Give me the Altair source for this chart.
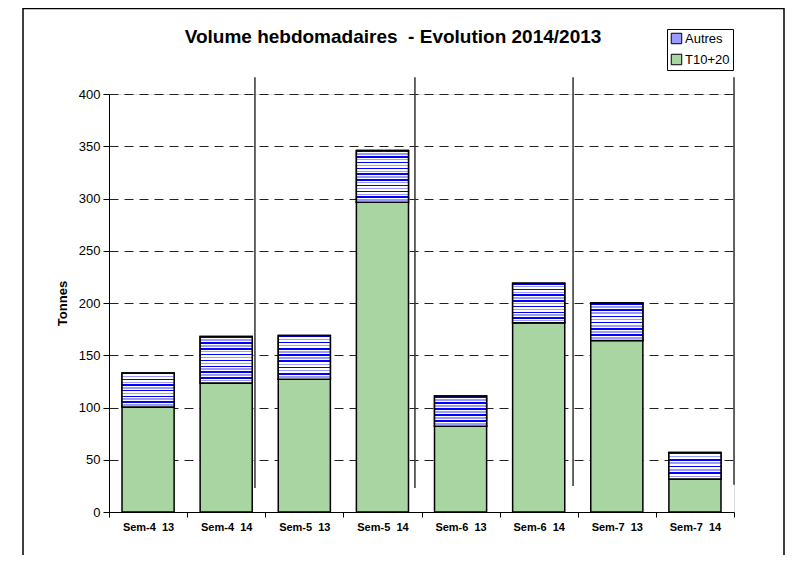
import altair as alt
import pandas as pd

title_text = "Volume hebdomadaires\u00a0 - Evolution 2014/2013"
weeks = ["Sem-4\u00a0 13", "Sem-4\u00a0 14", "Sem-5\u00a0 13", "Sem-5\u00a0 14",
         "Sem-6\u00a0 13", "Sem-6\u00a0 14", "Sem-7\u00a0 13", "Sem-7\u00a0 14"]
t1020 = [100.5, 123.5, 127, 296.5, 82, 181, 164, 31.5]
totals = [133, 168, 169, 346, 111, 219, 200, 57]
series = ["Autres", "T10+20"]
y_ticks = [0, 50, 100, 150, 200, 250, 300, 350, 400]
# vertical separator lines (x in units of week pairs)
sep_pos = [0.934, 1.958, 2.97, 4.0]
sep_low = [23, 23, 25, 26]
sep_high = [416, 416, 416, 416]

FONT = "Liberation Sans"
BLUE = "#0000ff"
LIGHTBLUE = "#9a9aff"
GREEN = "#a8d5a2"

rows = []
for i, w in enumerate(weeks):
    rows.append({"week": w, "i": i, "series": "T10+20", "y0": 0, "y1": t1020[i]})
    rows.append({"week": w, "i": i, "series": "Autres", "y0": t1020[i], "y1": totals[i]})
df = pd.DataFrame(rows)
sep_df = pd.DataFrame({"pos": sep_pos, "lo": sep_low, "hi": sep_high})


def stripes(n):
    stops = []
    p = 1.0 / n
    segs = [(0.0, 0.25, BLUE), (0.25, 0.5, "white"), (0.5, 0.75, LIGHTBLUE), (0.75, 1.0, "white")]
    for k in range(n):
        b = k / n
        for s, e, c in segs:
            stops.append(alt.GradientStop(offset=round(b + s * p, 4), color=c))
            stops.append(alt.GradientStop(offset=round(b + e * p, 4), color=c))
    return alt.LinearGradient(gradient="linear", stops=stops, x1=0, y1=0, x2=0, y2=1)


conds = []
for i in range(len(weeks)):
    n = max(3, round((totals[i] - t1020[i]) / 5.7))
    conds.append(alt.ConditionalPredicateValueDefGradientstringnullExprRef(
        test=f"datum.i == {i}", value=stripes(n)))

x_enc = alt.X("week:N", sort=weeks,
              scale=alt.Scale(paddingInner=0, paddingOuter=0),
              axis=alt.Axis(title=None, labelAngle=0, labelFont=FONT, labelFontSize=11,
                            labelFontWeight="bold", labelColor="black", labelPadding=4,
                            tickBand="extent", tickSize=5, tickColor="black",
                            domainColor="black", grid=False))
y_scale = alt.Scale(domain=[0, 400], nice=False)

bars = alt.Chart(df).mark_bar(stroke="black", strokeWidth=1.5,
                              width=alt.RelativeBandSize(0.667)).encode(
    x=x_enc,
    y=alt.Y("y0:Q", scale=y_scale,
            axis=alt.Axis(values=y_ticks, title="Tonnes", titleFont=FONT, titleFontSize=13,
                          titleFontWeight="bold", titleColor="black", titleX=-47, titleY=209,
                          titleAngle=-90, titleAlign="center", titleBaseline="middle",
                          labelFont=FONT, labelFontSize=13, labelColor="black", labelPadding=3,
                          tickSize=6, tickColor="black", domainColor="black",
                          grid=True, gridDash=[9, 6], gridColor="#222", gridWidth=1)),
    y2="y1:Q",
    fill=alt.Fill("series:N", scale=alt.Scale(domain=series, range=[LIGHTBLUE, GREEN]),
                  legend=alt.Legend(title=None, orient="none", legendX=558, legendY=-65,
                                    strokeColor="black", fillColor="white", padding=3,
                                    symbolType="square", symbolSize=110,
                                    symbolStrokeColor="black", symbolStrokeWidth=1,
                                    labelFont=FONT, labelFontSize=13, labelColor="black",
                                    rowPadding=6, labelOffset=2)),
)

stripe_layer = alt.Chart(df).transform_filter("datum.series == 'Autres'").mark_bar(
    stroke="black", strokeWidth=1.5, width=alt.RelativeBandSize(0.667)).encode(
    x=alt.X("week:N", sort=weeks),
    y=alt.Y("y0:Q", scale=y_scale),
    y2="y1:Q",
    fill=alt.FillValue(value="white", condition=conds),
)

seps = alt.Chart(sep_df).mark_rule(color="#333", strokeWidth=1.5).encode(
    x=alt.X("pos:Q", scale=alt.Scale(domain=[0, 4], nice=False), axis=None),
    y=alt.Y("lo:Q", scale=y_scale),
    y2="hi:Q",
)

frame = alt.Chart(alt.Data(values=[{}])).mark_rect(
    fill=None, stroke="black", strokeWidth=1.5).encode(
    x=alt.value(-86), x2=alt.value(675), y=alt.value(-85.5), y2=alt.value(480))

title = alt.Chart(alt.Data(values=[{"t": title_text}])).mark_text(
    font=FONT, fontSize=19, fontWeight="bold", color="black",
    align="center", baseline="middle").encode(
    text="t:N", x=alt.value(284), y=alt.value(-57))

main = alt.layer(bars, stripe_layer)

chart = alt.layer(main, seps, frame, title).resolve_scale(x="independent").properties(
    width=625, height=418,
    padding={"left": 101, "top": 86, "right": 52, "bottom": 43},
    autosize=alt.AutoSizeParams(type="none"),
).configure_view(stroke=None).configure(background="white")

chart.save("out.html", embed_options={"renderer": "svg", "actions": False})
